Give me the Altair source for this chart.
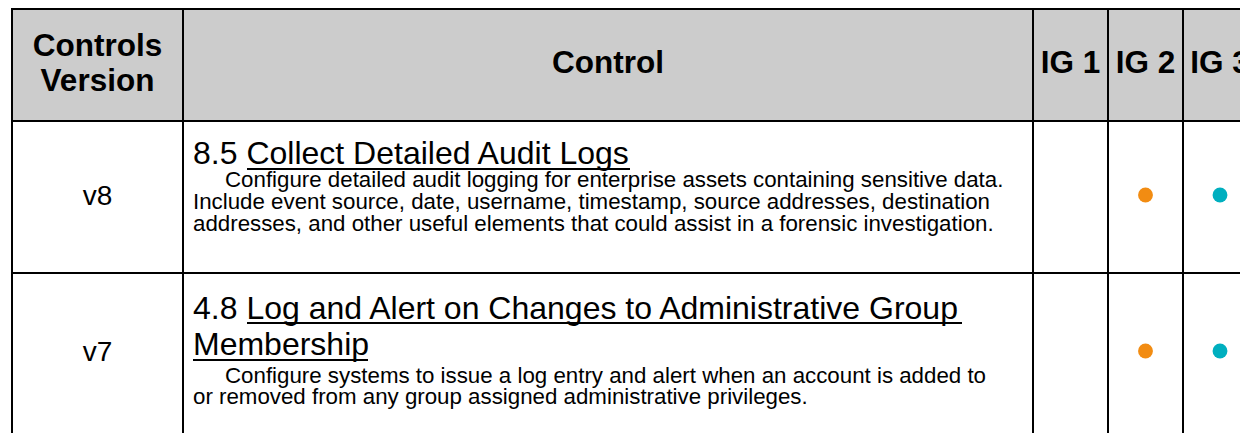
import altair as alt
import pandas as pd

# ---------------- table content ----------------
header_labels = [["Controls", "Version"], ["Control"], ["IG 1"], ["IG 2"], ["IG 3"]]
versions = ["v8", "v7"]
control_ids = ["8.5", "4.8"]
control_titles = [
    ["Collect Detailed Audit Logs"],
    ["Log and Alert on Changes to Administrative Group", "Membership"],
]
control_descs = [
    [
        "Configure detailed audit logging for enterprise assets containing sensitive data.",
        "Include event source, date, username, timestamp, source addresses, destination",
        "addresses, and other useful elements that could assist in a forensic investigation.",
    ],
    [
        "Configure systems to issue a log entry and alert when an account is added to",
        "or removed from any group assigned administrative privileges.",
    ],
]
ig_flags = {"IG 1": [False, False], "IG 2": [True, True], "IG 3": [True, True]}
ig_colors = {"IG 1": "#4d4d4d", "IG 2": "#F28C12", "IG 3": "#00AFBF"}

# ---------------- layout ----------------
FONT = "Liberation Sans"
PAGE_W, PAGE_H = 1240, 433
col_edges = [12, 183, 1033, 1108, 1183, 1258]
row_edges = [9, 121, 273, 440]
row_centers = [197, 353]
text_left = 193
indent_left = 225
title_baselines = [[164], [319, 355]]
desc_baselines = [[187, 209, 231], [383, 404]]
underlines = [[(247, 630, 169)], [(247, 962, 323), (193, 368, 360)]]

X = lambda f="x": alt.X(f"{f}:Q", scale=alt.Scale(domain=[8, PAGE_W], nice=False, zero=False), axis=None)
Y = lambda f="y": alt.Y(f"{f}:Q", scale=alt.Scale(domain=[8, PAGE_H], nice=False, zero=False, reverse=True), axis=None)

# header background
bg = pd.DataFrame([{"x": col_edges[0], "x2": col_edges[-1], "y": row_edges[0], "y2": row_edges[1]}])
bg_layer = alt.Chart(bg).mark_rect(color="#CCCCCC", clip=True).encode(
    x=X(), x2="x2:Q", y=Y(), y2="y2:Q")

# grid lines
hlines = pd.DataFrame([{"x": col_edges[0] - 1, "x2": col_edges[-1], "y": r, "y2": r} for r in row_edges])
vlines = pd.DataFrame([{"x": c, "x2": c, "y": row_edges[0] - 1, "y2": row_edges[-1]} for c in col_edges])
lines = pd.concat([hlines, vlines], ignore_index=True)
grid_layer = alt.Chart(lines).mark_rule(color="black", strokeWidth=2, clip=True).encode(
    x=X(), x2="x2:Q", y=Y(), y2="y2:Q")

# header texts
hdr_rows = []
hdr_base = {1: [73], 2: [56, 91]}
for i, labs in enumerate(header_labels):
    cx = (col_edges[i] + col_edges[i + 1]) / 2
    if labs[0] == "IG 3":
        cx = 1220
    for lab, by in zip(labs, hdr_base[len(labs)]):
        hdr_rows.append({"x": cx, "y": by, "t": lab})
hdr_layer = alt.Chart(pd.DataFrame(hdr_rows)).mark_text(
    font=FONT, fontSize=31.5, fontWeight="bold", color="black", align="center",
    baseline="alphabetic", clip=True).encode(x=X(), y=Y(), text="t:N")

# version texts
ver_rows = [{"x": (col_edges[0] + col_edges[1]) / 2, "y": row_centers[i] + 8, "t": v}
            for i, v in enumerate(versions)]
ver_layer = alt.Chart(pd.DataFrame(ver_rows)).mark_text(
    font=FONT, fontSize=28, color="black", align="center", baseline="alphabetic").encode(
    x=X(), y=Y(), text="t:N")

# titles
title_rows = []
for i, lines_ in enumerate(control_titles):
    for j, ln in enumerate(lines_):
        t = f"{control_ids[i]} {ln}" if j == 0 else ln
        title_rows.append({"x": text_left, "y": title_baselines[i][j], "t": t})
title_layer = alt.Chart(pd.DataFrame(title_rows)).mark_text(
    font=FONT, fontSize=32, color="black", align="left", baseline="alphabetic").encode(
    x=X(), y=Y(), text="t:N")

# underlines
ul_rows = []
for i, uls in enumerate(underlines):
    for (a, b, yy) in uls:
        ul_rows.append({"x": a, "x2": b, "y": yy})
ul_layer = alt.Chart(pd.DataFrame(ul_rows)).mark_rule(color="black", strokeWidth=2).encode(
    x=X(), x2="x2:Q", y=Y())

# descriptions (first line of each cell is indented)
desc_rows = []
for i, lines_ in enumerate(control_descs):
    for j, ln in enumerate(lines_):
        desc_rows.append({"x": indent_left if j == 0 else text_left,
                          "y": desc_baselines[i][j], "t": ln})
desc_layer = alt.Chart(pd.DataFrame(desc_rows)).mark_text(
    font=FONT, fontSize=22.3, color="black", align="left", baseline="alphabetic").encode(
    x=X(), y=Y(), text="t:N")

# dots
dot_rows = []
for k, name in enumerate(["IG 1", "IG 2", "IG 3"]):
    cx = (col_edges[2 + k] + col_edges[3 + k]) / 2
    if name == "IG 3":
        cx = 1220
    for i, flag in enumerate(ig_flags[name]):
        if flag:
            dot_rows.append({"x": cx, "y": row_centers[i] - 2, "c": ig_colors[name]})
dot_layer = alt.Chart(pd.DataFrame(dot_rows)).mark_circle(size=220, opacity=1, clip=True).encode(
    x=X(), y=Y(), color=alt.Color("c:N", scale=None))

chart = alt.layer(bg_layer, grid_layer, hdr_layer, ver_layer, title_layer, ul_layer,
                  desc_layer, dot_layer).properties(
    width=PAGE_W - 8, height=PAGE_H - 8, padding=0, autosize=alt.AutoSizeParams(type="none")
).configure_view(stroke=None)

chart.save("out.html", embed_options={"renderer": "svg", "actions": False})
